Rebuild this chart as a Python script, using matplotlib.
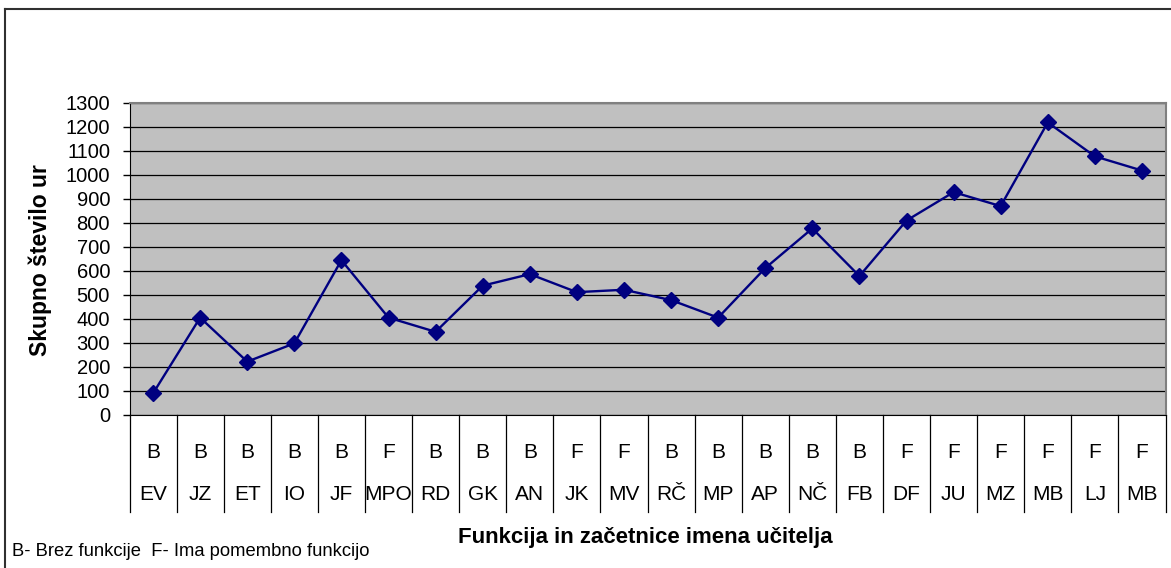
import matplotlib
matplotlib.use('Agg')
import matplotlib.pyplot as plt
from matplotlib.transforms import blended_transform_factory

plt.rcParams['font.family'] = ['Liberation Sans', 'DejaVu Sans']

# 
# data
# 
funkcija = ['B', 'B', 'B', 'B', 'B', 'F', 'B', 'B', 'B', 'F', 'F',
            'B', 'B', 'B', 'B', 'B', 'F', 'F', 'F', 'F', 'F', 'F']
zacetnice = ['EV', 'JZ', 'ET', 'IO', 'JF', 'MPO', 'RD', 'GK', 'AN', 'JK', 'MV',
             'RČ', 'MP', 'AP', 'NČ', 'FB', 'DF', 'JU', 'MZ', 'MB', 'LJ', 'MB']
skupno_ur = [90, 405, 222, 298, 644, 405, 346, 538, 586, 511, 521,
             478, 405, 611, 776, 578, 809, 927, 869, 1217, 1076, 1017]
y_ticks = list(range(0, 1301, 100))

W, H = 1171, 568
fig = plt.figure(figsize=(W/100.0, H/100.0), dpi=100)
fig.patch.set_facecolor('white')

# axes box in pixels
x0, x1 = 129.5, 1165.5
y_top, y_bot = 102.5, 415.0
ax = fig.add_axes([x0/W, 1-y_bot/H, (x1-x0)/W, (y_bot-y_top)/H])
ax.set_facecolor('#c0c0c0')

n = len(skupno_ur)
xs = list(range(n))
ax.plot(xs, skupno_ur, color='#000080', lw=1.7, marker='D', ms=8,
        mfc='#000080', mec='#000080', zorder=5)

ax.set_xlim(-0.5, n-0.5)
ax.set_ylim(0, 1300)
ax.set_yticks(y_ticks)
ax.set_yticklabels([str(v) for v in y_ticks], fontsize=14.5)
ax.yaxis.grid(True, color='black', lw=0.9)
ax.set_axisbelow(True)
ax.tick_params(axis='y', length=5, width=1, direction='out', pad=9)
ax.set_xticks([])

for s in ['top', 'right']:
    ax.spines[s].set_color('#808080')
    ax.spines[s].set_linewidth(1.5)
ax.spines['left'].set_color('black')
ax.spines['bottom'].set_color('black')

# category table below the axis
tr = blended_transform_factory(ax.transData, ax.transAxes)
sep_bottom = (y_bot - 512.0)/(y_bot - y_top)
for i in range(n+1):
    ax.plot([i-0.5, i-0.5], [0, sep_bottom], transform=tr, color='black',
            lw=0.9, clip_on=False)
row1 = (y_bot - 452.0)/(y_bot - y_top)
row2 = (y_bot - 494.0)/(y_bot - y_top)
for i in range(n):
    ax.text(i, row1, funkcija[i], transform=tr, ha='center', va='center', fontsize=15)
    ax.text(i, row2, zacetnice[i], transform=tr, ha='center', va='center', fontsize=15)

# axis labels
fig.text(645/W, 1-537/H, 'Funkcija in začetnice imena učitelja', ha='center', va='center',
         fontsize=16, fontweight='bold')
fig.text(40/W, 1-260/H, 'Skupno število ur', ha='center', va='center', rotation=90,
         fontsize=16.5, fontweight='bold')
fig.text(12/W, 1-551/H, 'B- Brez funkcije  F- Ima pomembno funkcijo', ha='left', va='center',
         fontsize=13.2)

# outer frame
fig.add_artist(plt.Line2D([5.5/W, 5.5/W], [0, 1-9/H], transform=fig.transFigure, color='#303030', lw=1.5))
fig.add_artist(plt.Line2D([5.5/W, 1], [1-9/H, 1-9/H], transform=fig.transFigure, color='#303030', lw=1.5))

fig.savefig('out.png', dpi=100)
